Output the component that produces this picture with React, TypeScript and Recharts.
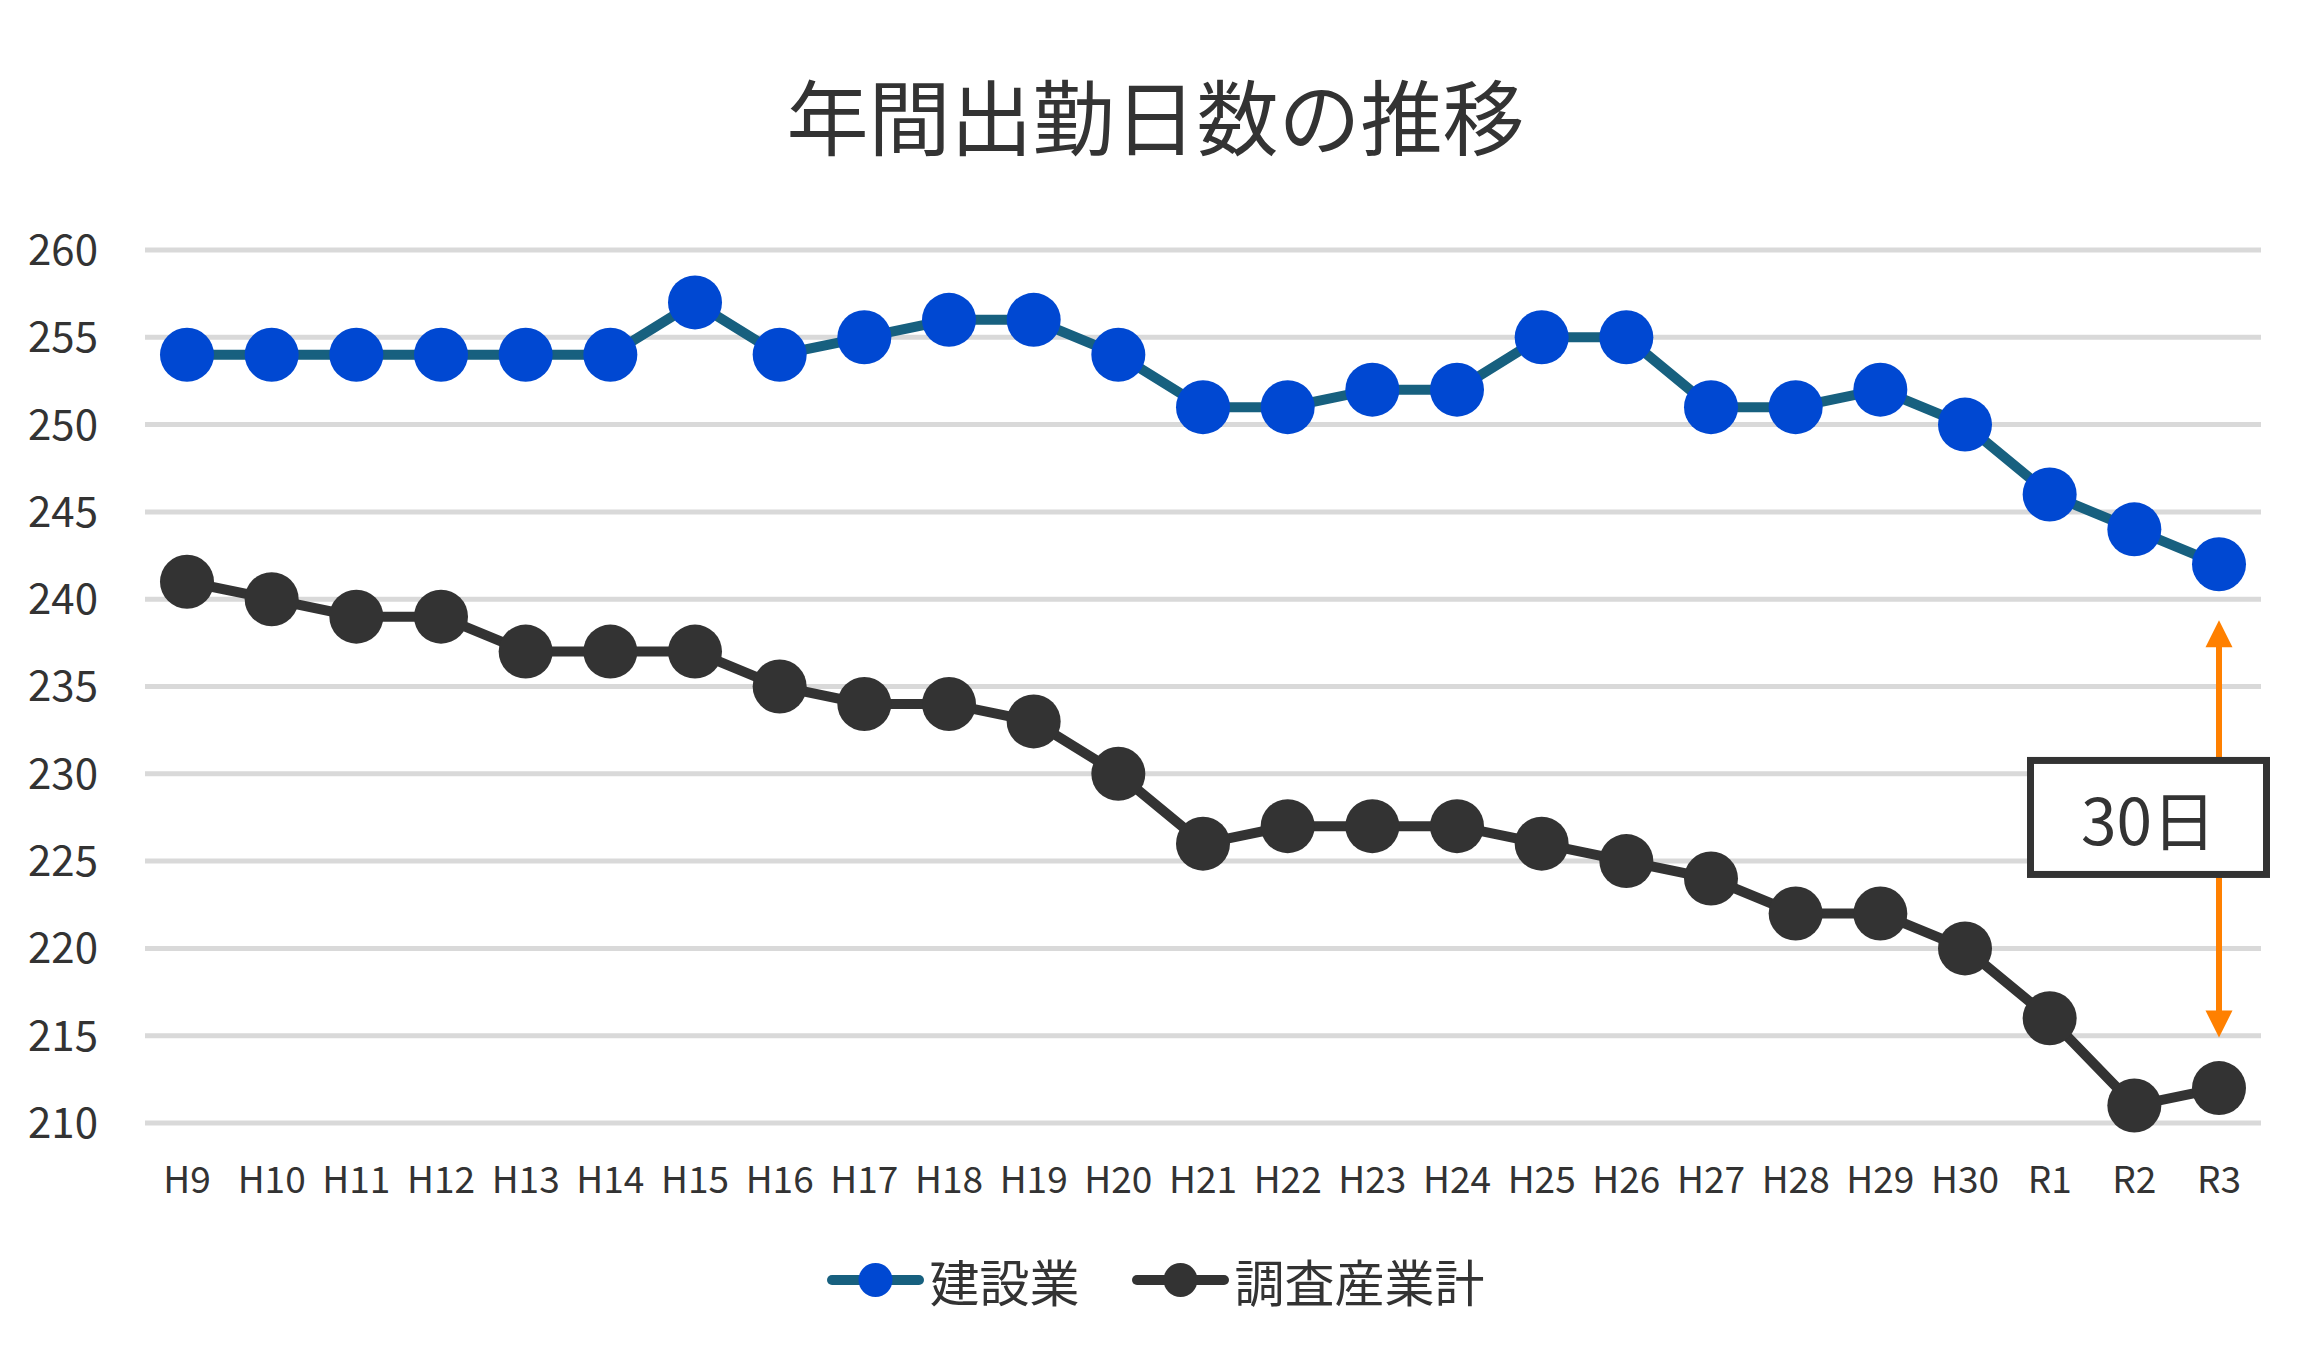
import {
  LineChart,
  Line,
  XAxis,
  YAxis,
  CartesianGrid,
  ReferenceLine,
  ReferenceDot,
} from "recharts";

const years = [
  "H9", "H10", "H11", "H12", "H13", "H14", "H15", "H16", "H17", "H18", "H19", "H20", "H21",
  "H22", "H23", "H24", "H25", "H26", "H27", "H28", "H29", "H30", "R1", "R2", "R3",
];
const construction = [
  254, 254, 254, 254, 254, 254, 257, 254, 255, 256, 256, 254, 251,
  251, 252, 252, 255, 255, 251, 251, 252, 250, 246, 244, 242,
];
const allIndustries = [
  241, 240, 239, 239, 237, 237, 237, 235, 234, 234, 233, 230, 226,
  227, 227, 227, 226, 225, 224, 222, 222, 220, 216, 211, 212,
];
const yTicks = [210, 215, 220, 225, 230, 235, 240, 245, 250, 255, 260];

const SERIES = [
  { key: "construction", name: "建設業", line: "#17607f", dot: "#0048d2" },
  { key: "all", name: "調査産業計", line: "#333333", dot: "#333333" },
];

// annotation: arrow span and label box centre (in data units)
const arrowTop = 238.8;
const arrowBottom = 214.9;
const boxCenter = 227.5;

const FONT = '"Noto Sans CJK JP", "Noto Sans", sans-serif';
const TEXT = "#333333";
const ORANGE = "#ff8000";

const data = years.map((y, i) => ({
  year: y,
  construction: construction[i],
  all: allIndustries[i],
}));

const last = years.length - 1;
const gap = construction[last] - allIndustries[last];

function Arrow(props: any) {
  const { x1, y1, y2 } = props;
  const head = 27;
  const half = 13.5;
  return (
    <g>
      <line x1={x1} y1={y1 + head - 2} x2={x1} y2={y2 - head + 2} stroke={ORANGE} strokeWidth={6} />
      <polygon points={`${x1},${y1} ${x1 - half},${y1 + head} ${x1 + half},${y1 + head}`} fill={ORANGE} />
      <polygon points={`${x1},${y2} ${x1 - half},${y2 - head} ${x1 + half},${y2 - head}`} fill={ORANGE} />
    </g>
  );
}

function GapBox(props: any) {
  const { cx, cy } = props;
  const mid = cx - 70.5;
  return (
    <g>
      <rect x={mid - 118} y={cy - 57} width={236} height={114} fill="#fff" stroke={TEXT} strokeWidth={7} />
      <text
        x={mid}
        y={cy}
        textAnchor="middle"
        dominantBaseline="central"
        fontSize={64}
        fontFamily={FONT}
        fill={TEXT}
      >
        {`${gap}日`}
      </text>
    </g>
  );
}

function LegendIcon({ line, dot }: { line: string; dot: string }) {
  return (
    <svg width={97} height={40}>
      <line x1={5} y1={20} x2={92} y2={20} stroke={line} strokeWidth={10} strokeLinecap="round" />
      <circle cx={48.5} cy={20} r={17} fill={dot} />
    </svg>
  );
}

export default function App() {
  return (
    <div
      style={{
        position: "absolute",
        left: 0,
        top: 0,
        width: 2311,
        height: 1362,
        background: "#fff",
        fontFamily: FONT,
      }}
    >
      <div
        style={{
          position: "absolute",
          top: 64,
          left: 0,
          width: 2311,
          textAlign: "center",
          fontSize: 82,
          lineHeight: "100px",
          color: TEXT,
        }}
      >
        年間出勤日数の推移
      </div>

      <LineChart
        width={2311}
        height={1362}
        data={data}
        margin={{ top: 250, right: 50, left: 0, bottom: 159 }}
      >
        <CartesianGrid vertical={false} stroke="#d9d9d9" strokeWidth={5} />
        <XAxis
          dataKey="year"
          padding={{ left: 42, right: 42 }}
          axisLine={false}
          tickLine={false}
          height={80}
          tickMargin={38}
          interval={0}
          tick={{ fontSize: 37, fill: TEXT, fontFamily: FONT }}
        />
        <YAxis
          domain={[210, 260]}
          ticks={yTicks}
          width={145}
          axisLine={false}
          tickLine={false}
          tickMargin={41}
          tick={{ fontSize: 42, fill: TEXT, fontFamily: FONT }}
        />
        {SERIES.map((s) => (
          <Line
            key={s.key}
            dataKey={s.key}
            name={s.name}
            stroke={s.line}
            strokeWidth={10}
            dot={{ r: 27, fill: s.dot, stroke: s.dot, strokeWidth: 0 }}
            activeDot={false}
            isAnimationActive={false}
          />
        ))}
        <ReferenceLine
          segment={[
            { x: years[last], y: arrowTop },
            { x: years[last], y: arrowBottom },
          ]}
          shape={Arrow}
        />
        <ReferenceDot x={years[last]} y={boxCenter} shape={GapBox} />
      </LineChart>

      <div
        style={{
          position: "absolute",
          top: 1250,
          left: 0,
          width: 2311,
          height: 60,
          display: "flex",
          justifyContent: "center",
          alignItems: "center",
          gap: 52,
        }}
      >
        {SERIES.map((s) => (
          <div key={s.key} style={{ display: "flex", alignItems: "center", gap: 6 }}>
            <LegendIcon line={s.line} dot={s.dot} />
            <span style={{ fontSize: 50, color: TEXT, lineHeight: "60px" }}>{s.name}</span>
          </div>
        ))}
      </div>
    </div>
  );
}
